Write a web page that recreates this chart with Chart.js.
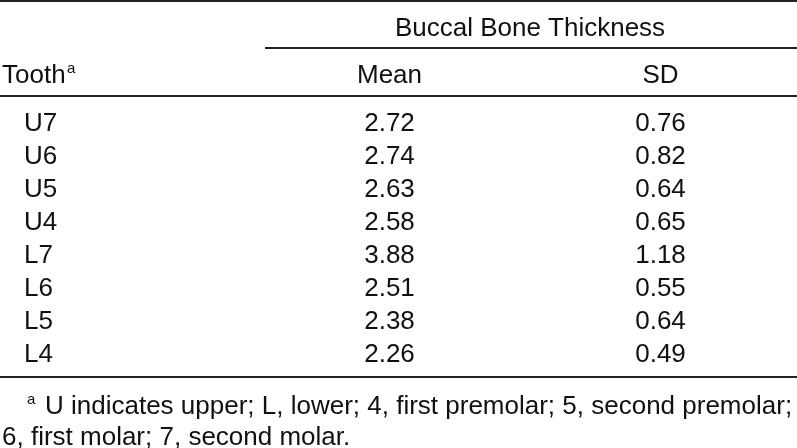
<!DOCTYPE html>
<html>
<head>
<meta charset="utf-8">
<script src="https://cdn.jsdelivr.net/npm/chart.js"></script>
<style>
  html, body { margin: 0; padding: 0; background: #fff; }
  #wrap { width: 797px; height: 448px; }
</style>
</head>
<body>
<div id="wrap"><canvas id="tbl" width="797" height="448"></canvas></div>

<script>
// table data
const teeth = ["U7", "U6", "U5", "U4", "L7", "L6", "L5", "L4"];
const meanBBT = [2.72, 2.74, 2.63, 2.58, 3.88, 2.51, 2.38, 2.26];
const sdBBT = [0.76, 0.82, 0.64, 0.65, 1.18, 0.55, 0.64, 0.49];

const spanTitle = "Buccal Bone Thickness";
const colHeads = ["Tooth", "Mean", "SD"];
const footLines = [
    "U indicates upper; L, lower; 4, first premolar; 5, second premolar;",
    "6, first molar; 7, second molar."
];

// layout: x in px units, y in row units (row i = data row)
const colX = { tooth: 24, mean: 389.5, sd: 660.5, headLeft: 2, spanLeft: 265, spanMid: 530 };
const rowY = { title: -2.879, head: -1.455, foot1: 8.576, foot2: 9.515 };
const rules = [
    { y: -3.939, x0: 0 },
    { y: -2.515, x0: 265 },
    { y: -1.061, x0: 0 },
    { y: 7.455, x0: 0 }
];

const FONT = '"Liberation Sans", Arial, Helvetica, sans-serif';
const INK = '#111';

const tablePlugin = {
    id: 'tablePlugin',
    afterDatasetsDraw(chart) {
        const ctx = chart.ctx;
        const xs = chart.scales.x, ys = chart.scales.y;
        const X = v => xs.getPixelForValue(v);
        const Y = v => ys.getPixelForValue(v);

        ctx.save();
        // rules
        ctx.strokeStyle = '#222';
        ctx.lineWidth = 2;
        rules.forEach(r => {
            ctx.beginPath();
            ctx.moveTo(X(r.x0), Y(r.y));
            ctx.lineTo(X(797), Y(r.y));
            ctx.stroke();
        });

        ctx.fillStyle = INK;
        ctx.textBaseline = 'alphabetic';
        ctx.font = '26px ' + FONT;

        // spanning header
        ctx.textAlign = 'center';
        ctx.fillText(spanTitle, X(colX.spanMid), Y(rowY.title));

        // column headers
        ctx.textAlign = 'left';
        ctx.fillText(colHeads[0], X(colX.headLeft), Y(rowY.head));
        const tw = ctx.measureText(colHeads[0]).width;
        ctx.textAlign = 'center';
        ctx.fillText(colHeads[1], X(colX.mean), Y(rowY.head));
        ctx.fillText(colHeads[2], X(colX.sd), Y(rowY.head));
        ctx.font = '15px ' + FONT;
        ctx.textAlign = 'left';
        ctx.fillText('a', X(colX.headLeft) + tw + 1.5, Y(rowY.head) - 10);

        // tooth labels
        ctx.font = '26px ' + FONT;
        teeth.forEach((t, i) => ctx.fillText(t, X(colX.tooth), Y(i)));

        // data cells from dataset elements
        ctx.textAlign = 'center';
        chart.data.datasets.forEach((ds, di) => {
            const meta = chart.getDatasetMeta(di);
            meta.data.forEach((pt, i) => {
                ctx.fillText(ds.data[i].v.toFixed(2), pt.x, pt.y);
            });
        });

        // footnote
        ctx.textAlign = 'left';
        ctx.font = '15px ' + FONT;
        ctx.fillText('a', X(27), Y(rowY.foot1) - 10);
        ctx.font = '26px ' + FONT;
        ctx.fillText(footLines[0], X(45), Y(rowY.foot1));
        ctx.fillText(footLines[1], X(2), Y(rowY.foot2));
        ctx.restore();
    }
};

new Chart(document.getElementById('tbl').getContext('2d'), {
    type: 'scatter',
    data: {
        datasets: [
            { label: 'Mean', data: meanBBT.map((v, i) => ({ x: colX.mean, y: i, v: v })), pointRadius: 0 },
            { label: 'SD', data: sdBBT.map((v, i) => ({ x: colX.sd, y: i, v: v })), pointRadius: 0 }
        ]
    },
    options: {
        responsive: false,
        animation: false,
        layout: { padding: 0 },
        plugins: {
            legend: { display: false },
            tooltip: { enabled: false }
        },
        scales: {
            x: { type: 'linear', display: false, min: 0, max: 797 },
            y: { type: 'linear', display: false, reverse: true, min: -131 / 33, max: 317 / 33 }
        }
    },
    plugins: [tablePlugin]
});
</script>
</body>
</html>
